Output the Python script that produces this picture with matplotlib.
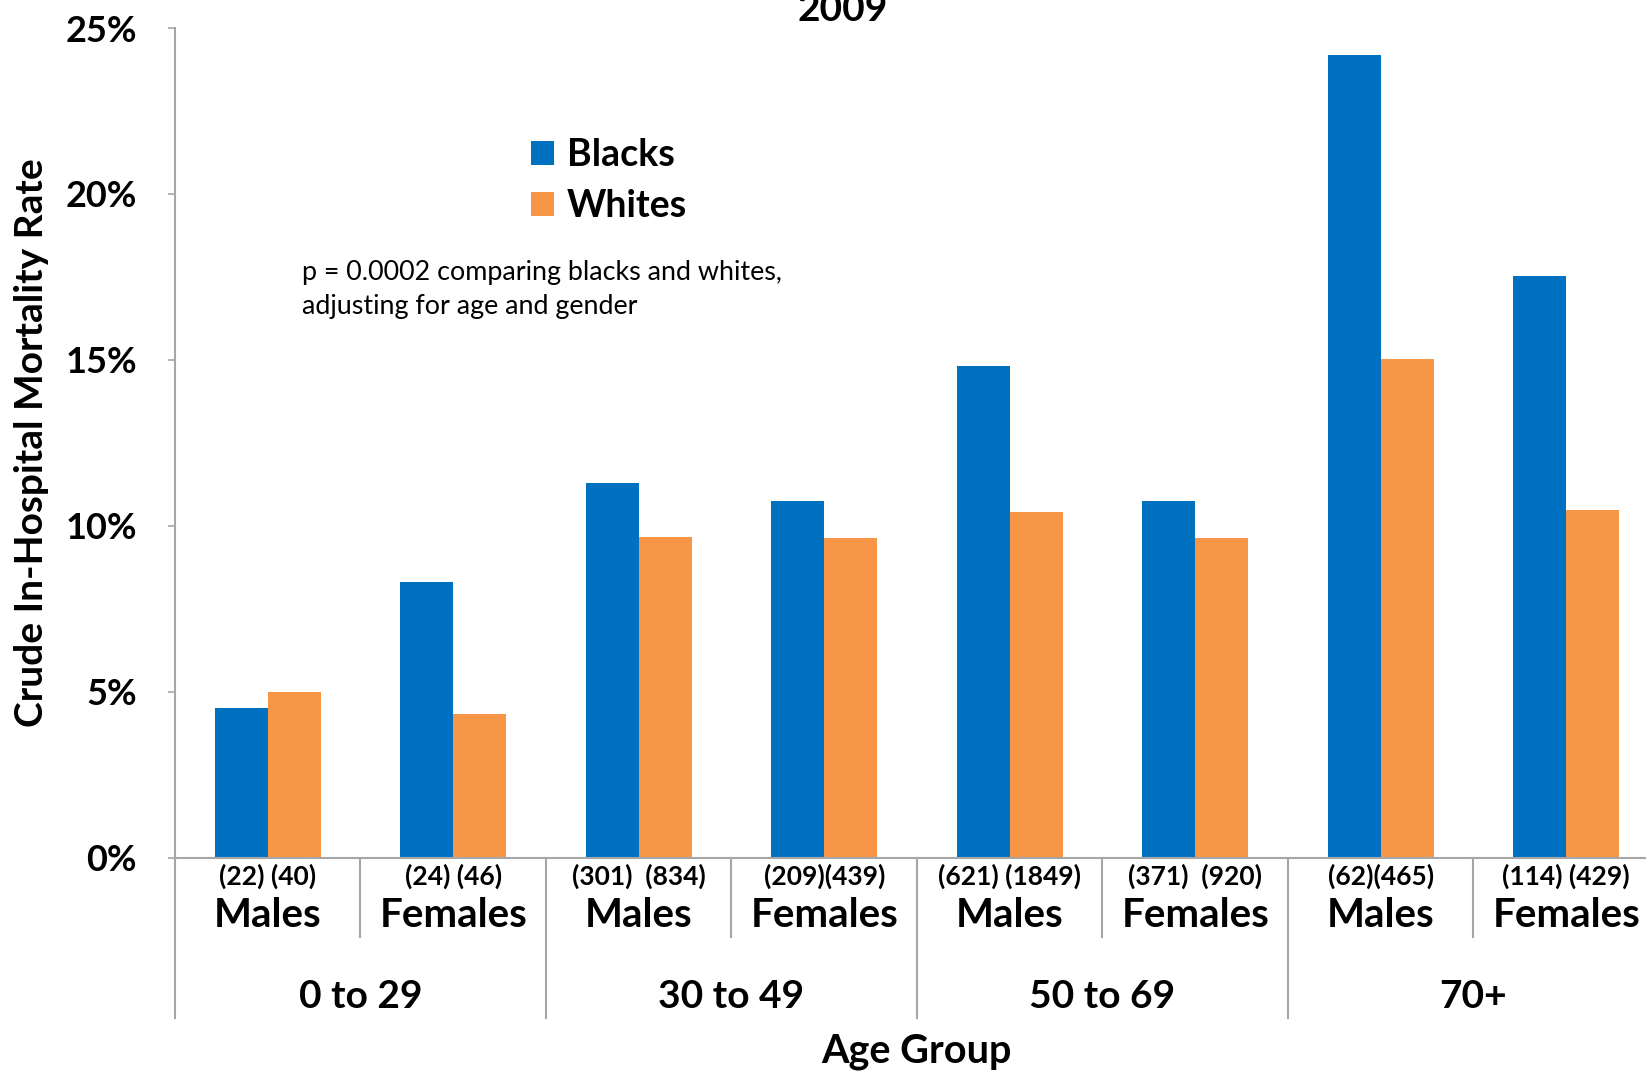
import matplotlib
matplotlib.use("Agg")
import matplotlib.pyplot as plt
import numpy as np

plt.rcParams['font.family'] = ['Lato', 'DejaVu Sans']

# Data
age_groups = ["0 to 29", "30 to 49", "50 to 69", "70+"]
genders = ["Males", "Females", "Males", "Females", "Males", "Females", "Males", "Females"]
counts = ["(22) (40)", "(24) (46)", "(301)  (834)", "(209)(439)",
          "(621) (1849)", "(371)  (920)", "(62)(465)", "(114) (429)"]
blacks = [4.53, 8.32, 11.3, 10.76, 14.81, 10.76, 24.18, 17.53]
whites = [5.0, 4.34, 9.68, 9.65, 10.41, 9.65, 15.03, 10.47]
yticks = [0, 5, 10, 15, 20, 25]

BLUE = "#0070C0"
ORANGE = "#F79646"
GRAY = "#A6A6A6"

fig = plt.figure(figsize=(16.46, 10.73), dpi=100)
ax = fig.add_axes([0.1063, 0.2004, 1.0079 - 0.1063, 0.9739 - 0.2004])

x = np.arange(len(genders))
w = 0.286
b1 = ax.bar(x - w / 2, blacks, w, color=BLUE, label="Blacks")
b2 = ax.bar(x + w / 2, whites, w, color=ORANGE, label="Whites")

ax.set_xlim(-0.5, len(genders) - 0.5)
ax.set_ylim(0, 25)
ax.set_yticks(yticks)
ax.set_yticklabels([f"{t}%" for t in yticks], fontsize=26, fontweight='bold')
ax.tick_params(axis='y', length=5.4, width=1.2, color=GRAY, pad=22)
ax.tick_params(axis='x', length=0, labelbottom=False)
for s in ['top', 'right']:
    ax.spines[s].set_visible(False)
for s in ['left', 'bottom']:
    ax.spines[s].set_color(GRAY)
    ax.spines[s].set_linewidth(1.5)

ax.set_ylabel("Crude In-Hospital Mortality Rate", fontsize=28, fontweight='bold')
ax.yaxis.set_label_coords(-0.085, 0.5)

trans = ax.get_xaxis_transform()
# separators
for i in range(len(genders) + 1):
    bx = i - 0.5
    ybot = -0.193 if i % 2 == 0 else -0.095
    ax.plot([bx, bx], [0, ybot], transform=trans, color=GRAY, lw=1.5, clip_on=False)

for i in range(len(genders)):
    ax.text(x[i], -0.022, counts[i], transform=trans, ha='center', va='center',
            fontsize=19, fontweight='bold')
    ax.text(x[i], -0.069, genders[i], transform=trans, ha='center', va='center',
            fontsize=29, fontweight='bold')
for j, g in enumerate(age_groups):
    ax.text(2 * j + 0.5, -0.167, g, transform=trans, ha='center', va='center',
            fontsize=28, fontweight='bold')

fig.text(916 / 1646, 1 - 1052 / 1073, "Age Group", ha='center', va='center',
         fontsize=28.5, fontweight='bold')
fig.text(843 / 1646, 1 - 21 / 1073, "2009", ha='center', va='baseline',
         fontsize=28, fontweight='bold')

leg = ax.legend(handles=[b1, b2], loc='upper left',
                bbox_to_anchor=(531 / 1646, 1 - 138 / 1073), bbox_transform=fig.transFigure,
                frameon=False, prop={'weight': 'bold', 'size': 27},
                handlelength=0.6, handleheight=0.6, handletextpad=0.35,
                borderpad=0, borderaxespad=0, labelspacing=0.45)

fig.text(302 / 1646, 1 - 260 / 1073,
         "p = 0.0002 comparing blacks and whites,\nadjusting for age and gender",
         ha='left', va='top', fontsize=19.4, linespacing=1.45)

fig.savefig("out.png", dpi=100)
